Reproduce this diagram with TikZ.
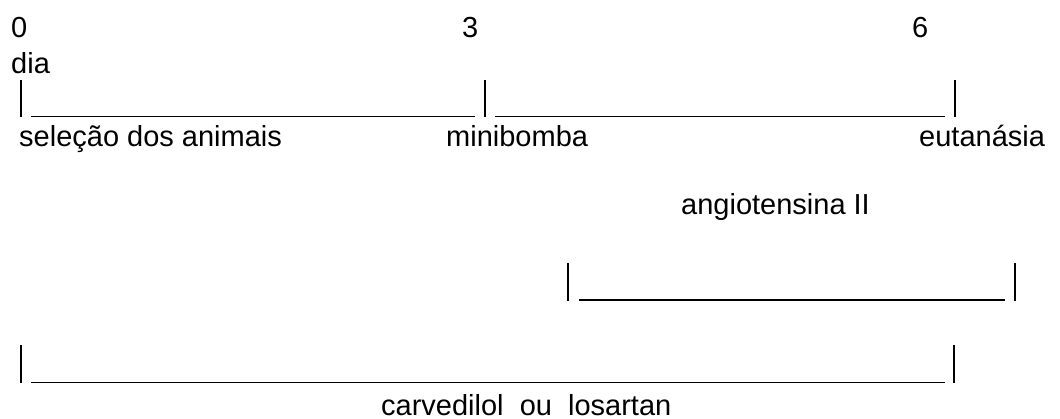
\documentclass[tikz,border=0pt]{standalone}
\usepackage{fontspec}
\setmainfont{Liberation Sans}
\begin{document}
\begin{tikzpicture}[x=1pt,y=-1pt,
  lbl/.style={anchor=base west,inner sep=0pt,font=\fontsize{29}{35}\selectfont},
  bar/.style={line width=1.6pt},
  rule/.style={line width=1.6pt}]
\useasboundingbox (0,0) rectangle (1060,419);
% top scale
\node[lbl] (n0) at (11,38) {0};
\node[lbl] (n3) at (462,38) {3};
\node[lbl] (n6) at (912,38) {6};
\node[lbl] (dia) at (11,74) {dia};
% first timeline
\coordinate (p1t) at (21,80);  \coordinate (p1b) at (21,117);
\coordinate (p2t) at (485,80); \coordinate (p2b) at (485,117);
\coordinate (p3t) at (955,80); \coordinate (p3b) at (955,117);
\draw[bar] (p1t) -- (p1b);
\draw[bar] (p2t) -- (p2b);
\draw[bar] (p3t) -- (p3b);
\coordinate (u1a) at (31,116.5); \coordinate (u1b) at (475,116.5);
\coordinate (u2a) at (495,116.5); \coordinate (u2b) at (945,116.5);
\draw[rule] (u1a) -- (u1b);
\draw[rule] (u2a) -- (u2b);
\node[lbl] (sel) at (19,147) {seleção dos animais};
\node[lbl] (mini) at (446,147) {minibomba};
\node[lbl] (eut) at (919,147) {eutanásia};
% angiotensina II
\node[lbl] (ang) at (681,215) {angiotensina II};
\coordinate (p4t) at (568,263); \coordinate (p4b) at (568,301);
\coordinate (p5t) at (1015,263); \coordinate (p5b) at (1015,301);
\draw[bar] (p4t) -- (p4b);
\draw[bar] (p5t) -- (p5b);
\coordinate (u3a) at (579,300); \coordinate (u3b) at (1005,300);
\draw[rule] (u3a) -- (u3b);
% carvedilol ou losartan
\coordinate (p6t) at (21,345); \coordinate (p6b) at (21,383);
\coordinate (p7t) at (954,345); \coordinate (p7b) at (954,383);
\draw[bar] (p6t) -- (p6b);
\draw[bar] (p7t) -- (p7b);
\coordinate (u4a) at (31,382.5); \coordinate (u4b) at (945,382.5);
\draw[rule] (u4a) -- (u4b);
\node[lbl] (carv) at (381,415) {carvedilol\ \ ou\ \ losartan};
\end{tikzpicture}
\end{document}
